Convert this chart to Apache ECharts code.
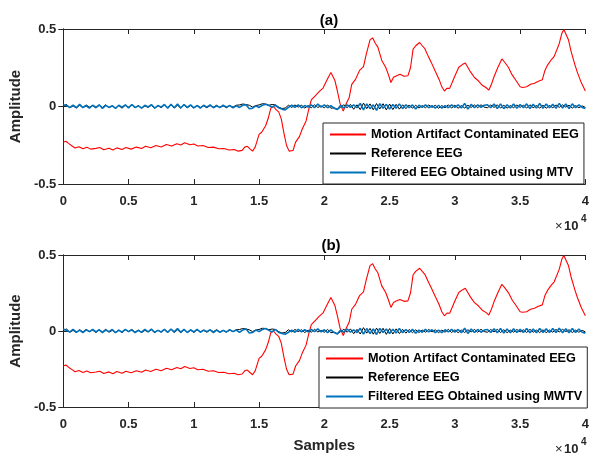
<!DOCTYPE html>
<html>
<head>
<meta charset="utf-8">
<title>EEG</title>
<script src="https://cdn.jsdelivr.net/npm/echarts@6/dist/echarts.min.js"></script>
<style>
	html, body { margin: 0; padding: 0; background: #fff; }
	#eegChart { width: 592px; height: 455px; }
</style>
</head>
<body>
<div id="eegChart"></div>
<script>
/*** 运动伪迹 EEG 对比图 ***/
var sampleStep = 250; //噪声序列的采样间隔
var xTicks = [0, 5000, 10000, 15000, 20000, 25000, 30000, 35000, 40000];
var yTicks = [-0.5, 0, 0.5];
var seriesNames = ['Motion Artifact Contaminated EEG', 'Reference EEG', 'Filtered EEG Obtained using MTV', 'Filtered EEG Obtained using MWTV'];

//红线：受运动伪迹污染的 EEG（两幅图相同）
var redX = [0, 200, 400, 700, 900, 1200, 1500, 1800, 2100, 2500, 2800, 3100, 3500, 3800, 4100, 4500, 4800, 5200, 5600, 6000,
	6300, 6700, 7100, 7500, 7900, 8300, 8700, 9000, 9300, 9700, 10000, 10300, 10700, 11100, 11500, 11900, 12300, 12700, 13100, 13400,
	13700, 13900, 14100, 14300, 14500, 14700, 15000, 15200, 15500, 15700, 15900, 16100, 16300, 16500, 16700, 16900, 17100, 17300, 17450, 17600,
	17800, 18100, 18300, 18600, 18800, 19000, 19300, 19600, 19900, 20200, 20500, 20800, 21000, 21200, 21450, 21700, 21900, 22100, 22400, 22700,
	23000, 23200, 23500, 23700, 23900, 24100, 24400, 24700, 24900, 25100, 25300, 25500, 25800, 26100, 26400, 26600, 26800, 27000, 27300, 27500,
	27700, 28000, 28200, 28500, 28800, 29000, 29200, 29400, 29600, 29800, 30000, 30300, 30600, 30800, 31000, 31200, 31500, 31800, 32100, 32400,
	32600, 32800, 33000, 33300, 33600, 33800, 34100, 34400, 34700, 35000, 35200, 35500, 35800, 36100, 36400, 36700, 36900, 37100, 37400, 37600,
	37800, 38000, 38200, 38350, 38500, 38700, 38900, 39200, 39400, 39700, 40000];
var redY = [-0.230, -0.224, -0.238, -0.256, -0.268, -0.260, -0.273, -0.263, -0.275, -0.270, -0.265, -0.279, -0.269, -0.281, -0.267, -0.278, -0.265, -0.275, -0.262, -0.271,
	-0.257, -0.266, -0.252, -0.261, -0.245, -0.255, -0.240, -0.249, -0.234, -0.247, -0.242, -0.255, -0.252, -0.265, -0.262, -0.273, -0.271, -0.281, -0.278, -0.288,
	-0.283, -0.262, -0.257, -0.273, -0.288, -0.262, -0.180, -0.166, -0.124, -0.076, -0.010, 0.000, -0.020, -0.035, -0.080, -0.170, -0.250, -0.288, -0.300, -0.284,
	-0.230, -0.193, -0.147, -0.093, -0.020, 0.042, 0.069, 0.096, 0.119, 0.171, 0.220, 0.170, 0.100, 0.020, -0.030, 0.023, 0.057, 0.143, 0.177, 0.233,
	0.257, 0.333, 0.430, 0.443, 0.408, 0.383, 0.297, 0.253, 0.207, 0.155, 0.188, 0.197, 0.208, 0.195, 0.198, 0.250, 0.370, 0.392, 0.413, 0.392,
	0.373, 0.317, 0.283, 0.227, 0.173, 0.127, 0.100, 0.118, 0.117, 0.156, 0.197, 0.253, 0.272, 0.281, 0.252, 0.223, 0.187, 0.166, 0.137, 0.121,
	0.105, 0.143, 0.192, 0.253, 0.307, 0.287, 0.253, 0.202, 0.166, 0.127, 0.123, 0.127, 0.143, 0.150, 0.163, 0.172, 0.233, 0.267, 0.303, 0.322,
	0.363, 0.407, 0.473, 0.497, 0.486, 0.431, 0.357, 0.269, 0.217, 0.151, 0.100];

//黑线：参考 EEG（两幅图相同）
var refEEG = [0.005, 0.013, -0.008, 0.004, -0.010, 0.008, -0.006, 0.010, -0.004, 0.006,
	-0.010, 0.008, -0.006, 0.011, -0.008, 0.004, -0.010, 0.006, -0.011, 0.008,
	-0.004, 0.010, -0.008, 0.006, -0.010, 0.004, -0.006, 0.008, -0.011, 0.006,
	-0.008, 0.010, -0.006, 0.011, -0.010, 0.008, -0.011, 0.010, -0.008, 0.006,
	-0.010, 0.008, -0.006, 0.004, -0.008, 0.006, -0.004, 0.008, -0.006, 0.004,
	-0.008, 0.006, -0.004, 0.008, 0.010, 0.016, 0.013, 0.008, -0.004, 0.006,
	0.010, 0.018, 0.016, 0.008, 0.013, 0.010, -0.004, -0.013, -0.010, 0.008,
	-0.006, 0.010, -0.004, 0.008, -0.010, 0.006, -0.008, 0.011, -0.006, 0.004,
	-0.008, 0.010, -0.011, -0.008, -0.018, -0.004, 0.011, -0.008, 0.014, -0.018,
	0.011, -0.020, 0.022, -0.014, 0.017, -0.021, 0.019, -0.016, 0.018, -0.022,
	0.016, -0.020, 0.014, -0.017, 0.011, -0.014, 0.010, -0.011, 0.008, -0.010,
	0.006, -0.008, 0.010, -0.006, 0.008, -0.011, 0.006, -0.008, 0.011, -0.010,
	0.008, -0.011, 0.006, -0.010, 0.008, -0.006, 0.010, -0.008, 0.011, -0.004,
	-0.008, 0.010, -0.006, 0.011, -0.010, 0.008, -0.011, 0.006, -0.008, 0.010,
	-0.006, 0.008, -0.010, 0.011, -0.008, 0.006, -0.010, 0.008, -0.011, 0.006,
	-0.008, 0.010, -0.006, 0.011, -0.004, 0.008, -0.010, 0.006, -0.008, 0.004,
	-0.006];

//蓝线 (a)：MTV 滤波结果
var mtvEEG = [0.010, 0.006, -0.006, 0.009, -0.008, 0.014, -0.007, 0.005, -0.010, 0.008,
	-0.005, 0.011, -0.012, 0.007, -0.006, 0.005, -0.013, 0.008, -0.004, 0.010,
	-0.009, 0.013, -0.006, 0.004, -0.011, 0.008, -0.003, 0.012, -0.010, 0.006,
	-0.004, 0.013, -0.011, 0.015, -0.008, 0.016, -0.010, 0.013, -0.006, 0.011,
	-0.008, 0.006, -0.010, 0.008, -0.004, 0.010, -0.008, 0.004, -0.006, 0.008,
	-0.004, 0.006, -0.008, 0.004, -0.006, 0.008, 0.011, -0.014, -0.011, 0.004,
	-0.006, 0.008, 0.015, 0.006, -0.004, 0.008, -0.008, -0.017, -0.022, -0.006,
	0.008, -0.006, 0.010, -0.008, 0.006, -0.004, 0.011, -0.008, 0.016, -0.004,
	0.010, -0.008, 0.006, -0.011, -0.020, 0.008, -0.010, 0.011, -0.006, 0.010,
	-0.008, 0.020, -0.022, 0.017, -0.014, 0.011, -0.025, 0.018, -0.011, 0.014,
	-0.017, 0.013, -0.011, 0.017, -0.014, 0.011, -0.008, 0.010, -0.016, 0.008,
	-0.006, 0.011, -0.008, 0.006, -0.010, 0.008, -0.011, 0.006, -0.008, 0.010,
	-0.006, 0.011, -0.010, 0.020, -0.017, 0.014, -0.008, 0.011, -0.006, 0.008,
	0.011, -0.008, 0.016, -0.013, 0.017, -0.014, 0.011, -0.010, 0.016, -0.011,
	0.013, -0.008, 0.017, -0.013, 0.014, -0.010, 0.019, -0.011, 0.016, -0.008,
	0.014, -0.011, 0.020, -0.010, 0.016, -0.013, 0.017, -0.008, 0.011, -0.006,
	-0.012];

//蓝线 (b)：MWTV 滤波结果
var mwtvEEG = [0.013, 0.004, -0.006, 0.010, -0.008, 0.006, -0.011, 0.008, -0.004, 0.011,
	-0.006, 0.008, -0.010, 0.006, -0.004, 0.010, -0.011, 0.006, -0.008, 0.011,
	-0.004, 0.008, -0.010, 0.004, -0.008, 0.010, -0.006, 0.013, -0.008, 0.004,
	-0.006, 0.011, -0.010, 0.013, -0.006, 0.016, -0.008, 0.011, -0.010, 0.008,
	-0.006, 0.010, -0.008, 0.006, -0.004, 0.008, -0.010, 0.006, -0.008, 0.004,
	-0.006, 0.008, -0.004, 0.006, -0.008, 0.006, 0.013, -0.013, -0.010, 0.006,
	-0.004, 0.010, 0.016, 0.004, -0.006, 0.010, -0.010, -0.016, -0.021, -0.008,
	0.006, -0.008, 0.011, -0.006, 0.008, -0.006, 0.010, -0.004, 0.014, -0.006,
	0.008, -0.010, 0.008, -0.010, -0.019, 0.006, -0.008, 0.013, -0.008, 0.008,
	-0.010, 0.018, -0.021, 0.016, -0.016, 0.013, -0.023, 0.017, -0.010, 0.013,
	-0.016, 0.011, -0.013, 0.016, -0.011, 0.010, -0.010, 0.011, -0.014, 0.006,
	-0.008, 0.010, -0.006, 0.008, -0.011, 0.006, -0.010, 0.008, -0.006, 0.011,
	-0.008, 0.010, -0.011, 0.018, -0.016, 0.013, -0.010, 0.010, -0.008, 0.006,
	0.010, -0.010, 0.014, -0.011, 0.016, -0.013, 0.013, -0.011, 0.014, -0.010,
	0.011, -0.010, 0.016, -0.011, 0.013, -0.011, 0.017, -0.010, 0.014, -0.010,
	0.016, -0.010, 0.018, -0.011, 0.014, -0.011, 0.016, -0.010, 0.013, -0.008,
	-0.014];

var eegChart = {
	font: 'Liberation Sans, Arial, Helvetica, sans-serif',
	axisColor: '#262626',
	init: function() {
		var chart = echarts.init(document.getElementById('eegChart'), null, { renderer: 'canvas' });
		chart.setOption(this.buildOption(), true);
	},
	//把序列转成 [x, y]，xs 为空时按等间隔取样
	toPairs: function(xs, ys) {
		var out = [];
		for (var i = 0; i < ys.length; i++) {
			out.push([xs ? xs[i] : i * sampleStep, ys[i]]);
		}
		return out;
	},
	xAxisOf: function(gridIndex, pos) {
		var self = this;
		return {
			type: 'value',
			gridIndex: gridIndex,
			position: pos,
			min: xTicks[0],
			max: xTicks[xTicks.length - 1],
			interval: 5000,
			axisLine: { show: true, onZero: false, lineStyle: { color: self.axisColor, width: 1 } },
			axisTick: { show: true, inside: true, length: 5, lineStyle: { color: self.axisColor } },
			splitLine: { show: false },
			axisLabel: {
				show: pos === 'bottom',
				margin: 11,
				color: self.axisColor,
				fontFamily: self.font,
				fontWeight: 'bold',
				fontSize: 13,
				formatter: function(v) { return String(v / 10000); }
			}
		};
	},
	yAxisOf: function(gridIndex, pos) {
		var self = this;
		return {
			type: 'value',
			gridIndex: gridIndex,
			position: pos,
			min: yTicks[0],
			max: yTicks[yTicks.length - 1],
			interval: 0.5,
			name: pos === 'left' ? 'Amplitude' : '',
			nameLocation: 'middle',
			nameGap: 30,
			nameTextStyle: { color: self.axisColor, fontFamily: self.font, fontWeight: 'bold', fontSize: 15 },
			axisLine: { show: true, lineStyle: { color: self.axisColor, width: 1 } },
			axisTick: { show: true, inside: true, length: 5, lineStyle: { color: self.axisColor } },
			splitLine: { show: false },
			axisLabel: {
				show: pos === 'left',
				margin: 7,
				color: self.axisColor,
				fontFamily: self.font,
				fontWeight: 'bold',
				fontSize: 13
			}
		};
	},
	legendOf: function(left, top, names, iconW) {
		return {
			orient: 'vertical',
			left: left,
			top: top,
			data: names,
			icon: 'rect',
			itemWidth: iconW,
			itemHeight: 2,
			itemGap: 4,
			padding: [4, 5, 4, 7],
			backgroundColor: '#fff',
			borderColor: this.axisColor,
			borderWidth: 1,
			borderRadius: 0,
			selectedMode: false,
			textStyle: { color: '#000', fontFamily: this.font, fontWeight: 'bold', fontSize: 12.7, lineHeight: 15 }
		};
	},
	lineOf: function(name, idx, data, color, width) {
		return {
			name: name,
			type: 'line',
			xAxisIndex: idx,
			yAxisIndex: idx,
			data: data,
			showSymbol: false,
			symbol: 'none',
			lineStyle: { color: color, width: width },
			itemStyle: { color: color },
			animation: false
		};
	},
	//×10^4 标注
	expText: function(top) {
		var self = this;
		return [{
			type: 'text', left: 555, top: top,
			style: { text: '×', fill: self.axisColor, font: '13px ' + self.font }
		}, {
			type: 'text', left: 564, top: top,
			style: { text: '10', fill: self.axisColor, font: 'bold 13px ' + self.font }
		}, {
			type: 'text', left: 581, top: top - 6,
			style: { text: '4', fill: self.axisColor, font: 'bold 10px ' + self.font }
		}];
	},
	buildOption: function() {
		var self = this;
		var red = self.toPairs(redX, redY);
		var ref = self.toPairs(null, refEEG);
		var xa = self.xAxisOf(1, 'bottom');
		xa.name = 'Samples';
		xa.nameLocation = 'middle';
		xa.nameGap = 31;
		xa.nameTextStyle = { color: self.axisColor, fontFamily: self.font, fontWeight: 'bold', fontSize: 15 };
		return {
			backgroundColor: '#fff',
			animation: false,
			title: [{
				text: '(a)', left: 324, top: 8, textAlign: 'center',
				textStyle: { color: '#000', fontFamily: self.font, fontWeight: 'bold', fontSize: 15 }
			}, {
				text: '(b)', left: 326, top: 233, textAlign: 'center',
				textStyle: { color: '#000', fontFamily: self.font, fontWeight: 'bold', fontSize: 15 }
			}],
			grid: [
				{ left: 60, top: 29, width: 528, height: 155 },
				{ left: 61, top: 255, width: 527, height: 152 }
			],
			xAxis: [self.xAxisOf(0, 'bottom'), xa, self.xAxisOf(0, 'top'), self.xAxisOf(1, 'top')],
			yAxis: [self.yAxisOf(0, 'left'), self.yAxisOf(1, 'left'), self.yAxisOf(0, 'right'), self.yAxisOf(1, 'right')],
			legend: [
				self.legendOf(323, 123, [seriesNames[0], seriesNames[1], seriesNames[2]], 36),
				self.legendOf(319, 347, [seriesNames[0], seriesNames[1], seriesNames[3]], 37)
			],
			graphic: self.expText(220).concat(self.expText(443)),
			series: [
				self.lineOf(seriesNames[0], 0, red, '#ff0000', 1.1),
				self.lineOf(seriesNames[1], 0, ref, '#000000', 1),
				self.lineOf(seriesNames[2], 0, self.toPairs(null, mtvEEG), '#0072bd', 1.6),
				self.lineOf(seriesNames[0], 1, red, '#ff0000', 1.1),
				self.lineOf(seriesNames[1], 1, ref, '#000000', 1),
				self.lineOf(seriesNames[3], 1, self.toPairs(null, mwtvEEG), '#0072bd', 1.6)
			]
		};
	}
};
//初始化
eegChart.init();
</script>
</body>
</html>
